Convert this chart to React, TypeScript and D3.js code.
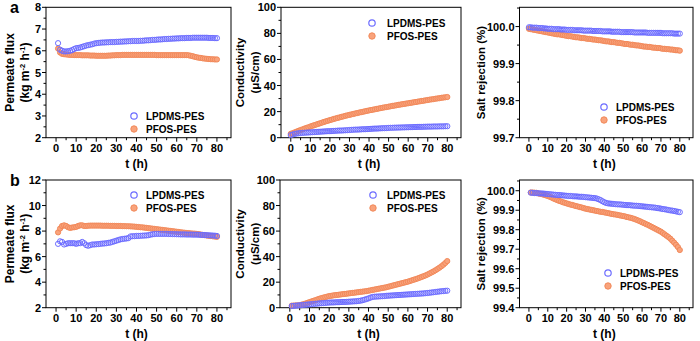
import React from "react";
import * as d3 from "d3";

// ---------- data ----------
const HOURS_1 = d3.range(1, 81); // 1..80 h
const HOURS_0 = d3.range(0, 81); // 0..80 h

const fluxA_LPDMS = [6.35,6.05,6.00,5.97,5.97,5.98,6.00,6.03,6.08,6.12,6.13,6.15,6.18,6.21,6.24,6.26,6.28,6.30,6.33,6.35,6.36,6.37,6.38,6.38,6.39,6.39,6.40,6.40,6.40,6.41,6.41,6.42,6.42,6.43,6.43,6.44,6.44,6.45,6.45,6.45,6.45,6.46,6.46,6.47,6.48,6.48,6.49,6.50,6.50,6.51,6.52,6.52,6.53,6.54,6.54,6.55,6.55,6.56,6.56,6.57,6.57,6.58,6.58,6.58,6.59,6.59,6.59,6.60,6.60,6.60,6.60,6.60,6.60,6.60,6.60,6.59,6.59,6.59,6.58,6.58];
const fluxA_PFOS = [6.10,5.92,5.86,5.84,5.83,5.82,5.81,5.81,5.80,5.80,5.80,5.80,5.79,5.79,5.79,5.79,5.78,5.78,5.78,5.77,5.77,5.77,5.77,5.77,5.77,5.78,5.78,5.79,5.79,5.80,5.80,5.80,5.81,5.81,5.81,5.81,5.81,5.81,5.81,5.81,5.81,5.81,5.81,5.81,5.81,5.81,5.81,5.81,5.81,5.80,5.80,5.80,5.80,5.80,5.80,5.80,5.80,5.80,5.80,5.80,5.80,5.80,5.80,5.80,5.80,5.79,5.77,5.75,5.72,5.70,5.68,5.67,5.65,5.64,5.63,5.62,5.61,5.61,5.60,5.60];

const condA_LPDMS = [2.0,2.5,2.9,3.2,3.4,3.6,3.7,3.8,3.9,4.0,4.1,4.2,4.3,4.4,4.5,4.6,4.7,4.8,4.9,5.0,5.0,5.1,5.2,5.3,5.4,5.5,5.5,5.6,5.7,5.8,5.9,6.0,6.1,6.2,6.2,6.3,6.4,6.5,6.5,6.6,6.7,6.8,6.9,7.0,7.0,7.1,7.2,7.3,7.3,7.4,7.5,7.6,7.6,7.7,7.7,7.8,7.8,7.9,7.9,8.0,8.0,8.1,8.1,8.2,8.2,8.3,8.3,8.3,8.4,8.4,8.5,8.5,8.5,8.6,8.6,8.6,8.7,8.7,8.7,8.8,8.8];
const condA_PFOS = [3.0,3.5,4.1,4.7,5.3,5.9,6.4,7.0,7.5,8.0,8.6,9.1,9.6,10.1,10.6,11.1,11.6,12.1,12.6,13.0,13.5,13.9,14.4,14.8,15.2,15.6,16.0,16.4,16.8,17.2,17.5,17.9,18.2,18.6,18.9,19.3,19.6,19.9,20.3,20.6,20.9,21.2,21.5,21.8,22.1,22.4,22.7,23.0,23.3,23.5,23.8,24.1,24.4,24.6,24.9,25.2,25.4,25.7,25.9,26.2,26.4,26.7,26.9,27.2,27.4,27.7,27.9,28.2,28.4,28.7,28.9,29.2,29.4,29.6,29.9,30.1,30.3,30.6,30.8,31.0,31.2];

const rejA_LPDMS = [99.998,99.998,99.997,99.997,99.997,99.996,99.996,99.996,99.995,99.995,99.994,99.994,99.994,99.993,99.993,99.993,99.993,99.992,99.992,99.992,99.991,99.991,99.991,99.991,99.990,99.990,99.990,99.990,99.990,99.989,99.989,99.989,99.989,99.989,99.988,99.988,99.988,99.988,99.988,99.987,99.987,99.987,99.987,99.987,99.986,99.986,99.986,99.986,99.986,99.985,99.985,99.985,99.985,99.985,99.985,99.985,99.984,99.984,99.984,99.984,99.984,99.984,99.984,99.983,99.983,99.983,99.983,99.983,99.983,99.983,99.983,99.982,99.982,99.982,99.982,99.982,99.982,99.981,99.981,99.981,99.981];
const rejA_PFOS = [99.994,99.993,99.992,99.991,99.990,99.989,99.988,99.987,99.986,99.985,99.984,99.983,99.982,99.981,99.980,99.979,99.979,99.978,99.977,99.976,99.975,99.974,99.974,99.973,99.972,99.971,99.971,99.970,99.969,99.969,99.968,99.967,99.967,99.966,99.965,99.965,99.964,99.963,99.963,99.962,99.961,99.960,99.960,99.959,99.958,99.958,99.957,99.956,99.956,99.955,99.954,99.953,99.953,99.952,99.951,99.951,99.950,99.949,99.949,99.948,99.947,99.946,99.946,99.945,99.945,99.944,99.943,99.943,99.942,99.942,99.941,99.940,99.940,99.939,99.939,99.938,99.938,99.937,99.936,99.936,99.935];

const fluxB_LPDMS = [7.00,7.20,7.15,6.95,7.00,7.05,7.05,7.05,7.05,7.00,7.05,7.05,7.15,7.05,6.90,6.85,6.90,6.95,6.95,6.97,6.98,7.00,7.02,7.03,7.05,7.08,7.10,7.15,7.20,7.25,7.30,7.35,7.38,7.40,7.42,7.45,7.58,7.60,7.60,7.62,7.62,7.63,7.64,7.65,7.66,7.68,7.72,7.75,7.77,7.78,7.78,7.78,7.78,7.78,7.78,7.77,7.77,7.76,7.76,7.75,7.75,7.74,7.74,7.74,7.73,7.73,7.73,7.72,7.72,7.72,7.71,7.70,7.70,7.69,7.68,7.67,7.66,7.65,7.64,7.62];
const fluxB_PFOS = [7.90,8.20,8.40,8.45,8.40,8.30,8.25,8.28,8.30,8.33,8.40,8.45,8.45,8.40,8.40,8.42,8.43,8.43,8.43,8.43,8.43,8.43,8.42,8.42,8.42,8.42,8.41,8.41,8.41,8.40,8.40,8.40,8.39,8.39,8.38,8.38,8.37,8.36,8.35,8.33,8.32,8.30,8.29,8.27,8.25,8.23,8.21,8.19,8.17,8.15,8.13,8.11,8.09,8.07,8.05,8.03,8.01,7.99,7.97,7.95,7.93,7.91,7.89,7.87,7.85,7.84,7.82,7.81,7.80,7.78,7.76,7.73,7.70,7.68,7.65,7.63,7.61,7.59,7.57,7.55];

const condB_LPDMS = [1.3,1.4,1.6,1.7,1.9,2.0,2.2,2.3,2.5,2.6,2.8,2.9,3.1,3.2,3.4,3.5,3.6,3.7,3.9,4.0,4.1,4.1,4.2,4.3,4.3,4.4,4.5,4.5,4.6,4.7,4.8,4.9,5.0,5.1,5.3,5.5,5.9,6.3,6.8,7.3,7.9,8.4,8.6,8.7,8.8,8.9,9.0,9.1,9.3,9.4,9.5,9.6,9.7,9.8,9.9,10.0,10.1,10.2,10.3,10.4,10.5,10.6,10.7,10.8,10.9,11.0,11.1,11.2,11.4,11.5,11.7,11.9,12.1,12.3,12.5,12.7,12.9,13.0,13.2,13.3];
const condB_PFOS = [1.6,1.7,1.8,1.9,2.0,2.4,2.8,3.3,3.8,4.4,4.9,5.4,5.9,6.5,7.0,7.5,7.9,8.3,8.7,9.1,9.3,9.6,9.8,10.0,10.2,10.4,10.6,10.8,11.0,11.2,11.4,11.6,11.8,12.0,12.2,12.4,12.6,12.8,13.0,13.3,13.6,13.9,14.2,14.5,14.8,15.1,15.4,15.7,16.0,16.4,16.8,17.2,17.6,18.0,18.4,18.8,19.2,19.6,20.0,20.4,20.9,21.4,21.9,22.4,22.9,23.5,24.1,24.7,25.3,26.0,26.8,27.6,28.4,29.3,30.3,31.3,32.4,33.6,35.0,36.5];

const rejB_LPDMS = [99.990,99.989,99.988,99.988,99.987,99.986,99.986,99.985,99.984,99.983,99.982,99.981,99.980,99.979,99.978,99.978,99.977,99.976,99.975,99.974,99.973,99.973,99.972,99.971,99.971,99.970,99.969,99.969,99.968,99.967,99.966,99.965,99.964,99.963,99.962,99.960,99.956,99.952,99.946,99.941,99.937,99.935,99.934,99.933,99.932,99.931,99.930,99.930,99.929,99.928,99.927,99.926,99.926,99.925,99.924,99.923,99.923,99.922,99.921,99.920,99.919,99.918,99.917,99.916,99.915,99.914,99.913,99.911,99.910,99.908,99.906,99.905,99.903,99.901,99.899,99.898,99.896,99.894,99.892,99.890];
const rejB_PFOS = [99.991,99.991,99.990,99.989,99.986,99.984,99.982,99.979,99.976,99.973,99.969,99.965,99.960,99.956,99.952,99.948,99.945,99.941,99.938,99.935,99.932,99.929,99.927,99.924,99.921,99.919,99.916,99.914,99.911,99.908,99.906,99.904,99.902,99.900,99.898,99.896,99.894,99.892,99.891,99.889,99.887,99.885,99.883,99.881,99.879,99.878,99.876,99.874,99.872,99.870,99.868,99.865,99.863,99.861,99.858,99.855,99.851,99.847,99.843,99.838,99.834,99.829,99.825,99.820,99.815,99.810,99.805,99.800,99.795,99.790,99.783,99.776,99.769,99.762,99.754,99.744,99.734,99.723,99.711,99.696];

const SERIES_NAMES = ["LPDMS-PES", "PFOS-PES"];
const X_TICKS = [0, 10, 20, 30, 40, 50, 60, 70, 80];
const X_TITLE = "t (h)";

// ---------- styles ----------
const FONT = "'Liberation Sans', Arial, sans-serif";
const BLUE = "#6c6cff";
const ORANGE_FILL = "#f9a37c";
const ORANGE_STROKE = "#f2895a";
const TICK_FS = 11;
const TITLE_FS = 11.5;

type PanelCfg = {
  x0: number; x1: number; y0: number; y1: number;
  yDomain: [number, number];
  yTicks: number[]; yMinor: number[]; yFmt: (v: number) => string;
  t1: number[]; v1: number[]; t2: number[]; v2: number[];
  title: "flux" | "cond" | "rej";
  titleX: number;
  leg: { cx: number; cy: number; tx: number };
  label?: string;
};

const fmtInt = (v: number) => String(v);
const fmt1 = (v: number) => v.toFixed(1);

const TOP_A = 7.3, BOT_A = 137.7, TOP_B = 180, BOT_B = 307.7;

const panels: PanelCfg[] = [
  { x0: 46, x1: 231, y0: TOP_A, y1: BOT_A, yDomain: [2, 8], yTicks: [2,3,4,5,6,7,8], yMinor: [2.5,3.5,4.5,5.5,6.5,7.5], yFmt: fmtInt,
    t1: HOURS_1, v1: fluxA_LPDMS, t2: HOURS_1, v2: fluxA_PFOS, title: "flux", titleX: 10, leg: { cx: 134, cy: 116, tx: 146 }, label: "a" },
  { x0: 281, x1: 461, y0: TOP_A, y1: BOT_A, yDomain: [0, 100], yTicks: [0,20,40,60,80,100], yMinor: [10,30,50,70,90], yFmt: fmtInt,
    t1: HOURS_0, v1: condA_LPDMS, t2: HOURS_0, v2: condA_PFOS, title: "cond", titleX: 240, leg: { cx: 372, cy: 23, tx: 387 } },
  { x0: 519.5, x1: 693, y0: TOP_A, y1: BOT_A, yDomain: [99.7, 100.052], yTicks: [99.7,99.8,99.9,100.0], yMinor: [99.75,99.85,99.95,100.05], yFmt: fmt1,
    t1: HOURS_0, v1: rejA_LPDMS, t2: HOURS_0, v2: rejA_PFOS, title: "rej", titleX: 481, leg: { cx: 604, cy: 107, tx: 616 } },
  { x0: 46, x1: 231, y0: TOP_B, y1: BOT_B, yDomain: [2, 12], yTicks: [2,4,6,8,10,12], yMinor: [3,5,7,9,11], yFmt: fmtInt,
    t1: HOURS_1, v1: fluxB_LPDMS, t2: HOURS_1, v2: fluxB_PFOS, title: "flux", titleX: 10, leg: { cx: 134, cy: 195, tx: 146 }, label: "b" },
  { x0: 280, x1: 461, y0: TOP_B, y1: BOT_B, yDomain: [0, 100], yTicks: [0,20,40,60,80,100], yMinor: [10,30,50,70,90], yFmt: fmtInt,
    t1: HOURS_1, v1: condB_LPDMS, t2: HOURS_1, v2: condB_PFOS, title: "cond", titleX: 240, leg: { cx: 373, cy: 195, tx: 387 } },
  { x0: 519.5, x1: 693, y0: TOP_B, y1: BOT_B, yDomain: [99.4, 100.055], yTicks: [99.4,99.5,99.6,99.7,99.8,99.9,100.0], yMinor: [99.45,99.55,99.65,99.75,99.85,99.95,100.05], yFmt: fmt1,
    t1: HOURS_1, v1: rejB_LPDMS, t2: HOURS_1, v2: rejB_PFOS, title: "rej", titleX: 481, leg: { cx: 608, cy: 273, tx: 620 } },
];

function Panel({ p }: { p: PanelCfg }) {
  const x = d3.scaleLinear().domain([-5, 87]).range([p.x0, p.x1]);
  const y = d3.scaleLinear().domain(p.yDomain).range([p.y1, p.y0]);
  const xMinor = [5, 15, 25, 35, 45, 55, 65, 75, 85];
  const midY = (p.y0 + p.y1) / 2;
  const R = 2.6;
  const RL = 3.2;
  return (
    <g>
      <rect x={p.x0} y={p.y0} width={p.x1 - p.x0} height={p.y1 - p.y0} fill="none" stroke="#000" strokeWidth={1} />
      {X_TICKS.map((t) => (
        <g key={"xt" + t}>
          <line x1={x(t)} x2={x(t)} y1={p.y1} y2={p.y1 + 4} stroke="#000" strokeWidth={1} />
          <text x={x(t)} y={p.y1 + 14} textAnchor="middle" fontSize={TICK_FS} fontWeight="bold" fontFamily={FONT}>{t}</text>
        </g>
      ))}
      {xMinor.map((t) => (
        <line key={"xm" + t} x1={x(t)} x2={x(t)} y1={p.y1} y2={p.y1 + 2.5} stroke="#000" strokeWidth={1} />
      ))}
      {p.yTicks.map((v) => (
        <g key={"yt" + v}>
          <line x1={p.x0 - 4} x2={p.x0} y1={y(v)} y2={y(v)} stroke="#000" strokeWidth={1} />
          <text x={p.x0 - 5} y={y(v) + 4} textAnchor="end" fontSize={TICK_FS} fontWeight="bold" fontFamily={FONT}>{p.yFmt(v)}</text>
        </g>
      ))}
      {p.yMinor.filter((v) => v <= p.yDomain[1]).map((v) => (
        <line key={"ym" + v} x1={p.x0 - 2.5} x2={p.x0} y1={y(v)} y2={y(v)} stroke="#000" strokeWidth={1} />
      ))}
      <text x={(x(0) + x(80)) / 2} y={p.y1 + 30} textAnchor="middle" fontSize={12} fontWeight="bold" fontFamily={FONT}>{X_TITLE}</text>
      {p.title === "flux" && (
        <g fontSize={TITLE_FS + 0.5} fontWeight="bold" fontFamily={FONT} textAnchor="middle">
          <text transform={`translate(${p.titleX + 4},${midY}) rotate(-90)`}>Permeate flux</text>
          <text transform={`translate(${p.titleX + 19},${midY}) rotate(-90)`}>
            (kg m<tspan fontSize={7.5} dy={-4}>-2</tspan><tspan dy={4}> h</tspan><tspan fontSize={7.5} dy={-4}>-1</tspan><tspan dy={4}>)</tspan>
          </text>
        </g>
      )}
      {p.title === "cond" && (
        <g fontSize={TITLE_FS} fontWeight="bold" fontFamily={FONT} textAnchor="middle">
          <text transform={`translate(${p.titleX + 4},${midY}) rotate(-90)`}>Conductivity</text>
          <text transform={`translate(${p.titleX + 19},${midY}) rotate(-90)`}>(μS/cm)</text>
        </g>
      )}
      {p.title === "rej" && (
        <text transform={`translate(${p.titleX + 4},${midY}) rotate(-90)`} fontSize={TITLE_FS} fontWeight="bold" fontFamily={FONT} textAnchor="middle">Salt rejection (%)</text>
      )}
      <g>
        {p.t2.map((t, i) => (
          <circle key={"s2" + i} cx={x(t)} cy={y(p.v2[i])} r={R} fill={ORANGE_FILL} stroke={ORANGE_STROKE} strokeWidth={1} />
        ))}
        {p.t1.map((t, i) => (
          <circle key={"s1" + i} cx={x(t)} cy={y(p.v1[i])} r={R} fill="none" stroke={BLUE} strokeWidth={1} />
        ))}
      </g>
      <circle cx={p.leg.cx} cy={p.leg.cy} r={RL} fill="none" stroke={BLUE} strokeWidth={1.2} />
      <text x={p.leg.tx} y={p.leg.cy + 3.5} fontSize={10} fontWeight="bold" fontFamily={FONT}>{SERIES_NAMES[0]}</text>
      <circle cx={p.leg.cx} cy={p.leg.cy + 13} r={RL} fill={ORANGE_FILL} stroke={ORANGE_STROKE} strokeWidth={1} />
      <text x={p.leg.tx} y={p.leg.cy + 16.5} fontSize={10} fontWeight="bold" fontFamily={FONT}>{SERIES_NAMES[1]}</text>
      {p.label && (
        <text x={10} y={p.y0 + 6} fontSize={16} fontWeight="bold" fontFamily={FONT}>{p.label}</text>
      )}
    </g>
  );
}

export default function App() {
  return (
    <svg width={700} height={341} style={{ position: "absolute", left: 0, top: 0, background: "#fff" }}>
      <rect width={700} height={341} fill="#fff" />
      {panels.map((p, i) => (
        <Panel key={i} p={p} />
      ))}
    </svg>
  );
}
